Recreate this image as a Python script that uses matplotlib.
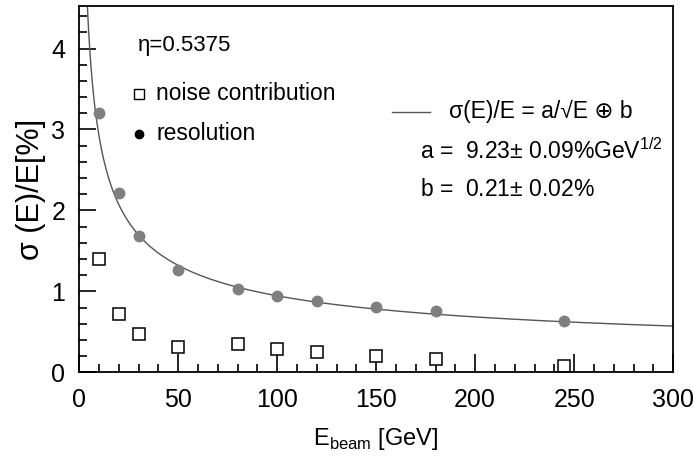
import numpy as np
import matplotlib.pyplot as plt
from matplotlib.ticker import MultipleLocator

# beam energies [GeV]
energy = [10, 20, 30, 50, 80, 100, 120, 150, 180, 245]
# energy resolution sigma(E)/E [%] and its errors
resolution = [3.20, 2.21, 1.68, 1.27, 1.03, 0.94, 0.88, 0.81, 0.76, 0.64]
resolution_err = [0.035, 0.02, 0.02, 0.02, 0.02, 0.02, 0.02, 0.02, 0.02, 0.02]
# noise contribution [%]
noise = [1.40, 0.72, 0.48, 0.32, 0.35, 0.29, 0.25, 0.20, 0.16, 0.08]

# fit result: sigma/E = a/sqrt(E) (+) b
fit_a = 9.23
fit_b = 0.21

plt.rcParams['font.family'] = ['Liberation Sans', 'DejaVu Sans']
plt.rcParams['mathtext.fontset'] = 'custom'
plt.rcParams['mathtext.rm'] = 'Liberation Sans'

fig = plt.figure(figsize=(6.94, 4.57), dpi=100)
ax = fig.add_axes([0.114, 0.185, 0.856, 0.801])

e_fit = np.linspace(3.5, 300, 500)
sigma_fit = np.sqrt((fit_a / np.sqrt(e_fit)) ** 2 + fit_b ** 2)
ax.plot(e_fit, sigma_fit, color='#555555', lw=1.0)

ax.errorbar(energy, resolution, yerr=resolution_err, fmt='o', color='#7f7f7f',
            ms=7.5, ecolor='#333333', elinewidth=1.0, capsize=3)
ax.plot(energy, noise, 's', mfc='white', mec='black', mew=1.1, ms=8, ls='none')

ax.set_xlim(0, 300)
ax.set_ylim(0, 4.52)
ax.xaxis.set_major_locator(MultipleLocator(50))
ax.xaxis.set_minor_locator(MultipleLocator(10))
ax.yaxis.set_major_locator(MultipleLocator(1))
ax.yaxis.set_minor_locator(MultipleLocator(0.2))
ax.tick_params(which='both', direction='in', top=False, right=False,
               labelsize=18, width=1.2)
ax.tick_params(axis='x', which='major', length=13, pad=11)
ax.tick_params(axis='y', which='major', length=12, pad=10)
ax.tick_params(which='minor', length=6)
for s in ax.spines.values():
    s.set_linewidth(1.3)

ax.set_xlabel(r'E$_{\rm beam}$ [GeV]', fontsize=17, labelpad=10)
ax.set_ylabel('σ (E)/E[%]', fontsize=22, labelpad=4)

# annotations
ax.text(29.5, 4.04, 'η=0.5375', fontsize=16, va='center')
ax.plot([30], [3.44], 's', mfc='white', mec='black', mew=1.0, ms=6.5)
ax.text(39, 3.44, 'noise contribution', fontsize=16.5, va='center')
ax.plot([30], [2.95], 'o', color='black', ms=6)
ax.text(39, 2.95, 'resolution', fontsize=16.5, va='center')

ax.plot([158, 177], [3.22, 3.22], color='#555555', lw=1.0)
ax.text(187, 3.22, 'σ(E)/E = a/√E ⊕ b', fontsize=16.5, va='center')
ax.text(172, 2.73, r'a =  9.23$\pm$ 0.09%GeV$^{1/2}$', fontsize=16.5, va='center')
ax.text(172, 2.26, r'b =  0.21$\pm$ 0.02%', fontsize=16.5, va='center')

fig.savefig('out.png', dpi=100)
